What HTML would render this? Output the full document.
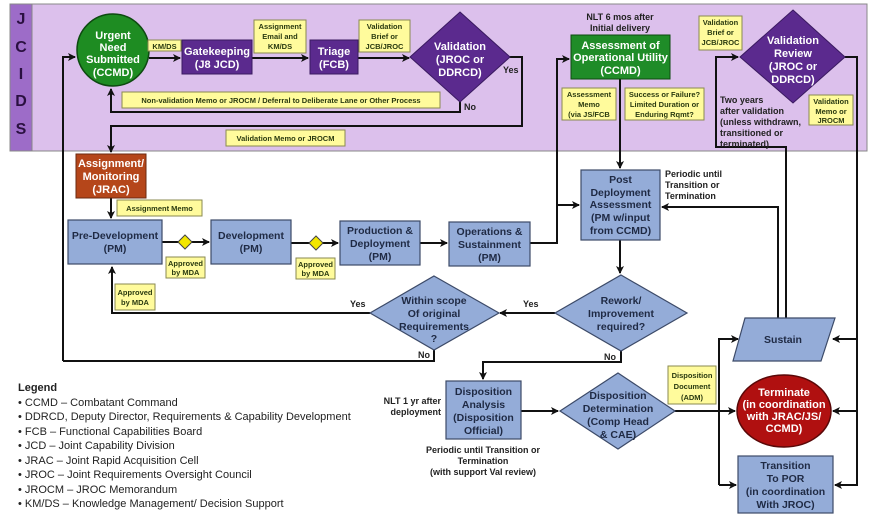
<!DOCTYPE html>
<html><head><meta charset="utf-8"><style>
html,body{margin:0;padding:0;background:#fff}
svg{display:block;font-family:"Liberation Sans",sans-serif;font-weight:bold}
.w{fill:#fff;font-size:11px;text-anchor:middle}
.d{fill:#1f2a44;font-size:10.5px;text-anchor:middle}
.y{fill:#2a3a10;font-size:7.5px;text-anchor:middle}
.lab{fill:#fffb9c;stroke:#8a8a50;stroke-width:1}
.pb{fill:#5b2a8e;stroke:#3a1a60;stroke-width:1}
.bb{fill:#94acd8;stroke:#3c4a68;stroke-width:1.2}
.ln{fill:none;stroke:#111;stroke-width:2}
.t{fill:#222;font-size:9px}
.lg{fill:#222;font-size:11px;font-weight:normal}
</style></head><body>
<svg width="869" height="520" viewBox="0 0 869 520">
<defs><marker id="a" markerWidth="8" markerHeight="8" refX="7" refY="4" orient="auto" markerUnits="userSpaceOnUse"><path d="M0,0 L8,4 L0,8 L2,4z" fill="#111"/></marker></defs>
<!-- panel -->
<rect x="10" y="4" width="857" height="147" fill="#dcc0ec" stroke="#888" stroke-width="1"/>
<rect x="10" y="4" width="22" height="147" fill="#9d6cc8" stroke="#888" stroke-width="1"/>
<g font-size="16" fill="#2a1040" text-anchor="middle"><text x="21" y="24">J</text><text x="21" y="52">C</text><text x="21" y="79">I</text><text x="21" y="106">D</text><text x="21" y="134">S</text></g>

<!-- connectors -->
<path class="ln" d="M149,58 H180" marker-end="url(#a)"/>
<path class="ln" d="M252,58 H308" marker-end="url(#a)"/>
<path class="ln" d="M358,58 H409" marker-end="url(#a)"/>
<path class="ln" d="M460,101 V112 H111 V89" marker-end="url(#a)"/>
<path class="ln" d="M509,57 H522 V126 H111 V152" marker-end="url(#a)"/>
<path class="ln" d="M63,361 V57 H75" marker-end="url(#a)"/>
<path class="ln" d="M111,198 V218" marker-end="url(#a)"/>
<path class="ln" d="M162,242 H209" marker-end="url(#a)"/>
<path class="ln" d="M291,243 H338" marker-end="url(#a)"/>
<path class="ln" d="M420,243 H447" marker-end="url(#a)"/>
<path class="ln" d="M530,243 H557 V59 H569" marker-end="url(#a)"/>
<path class="ln" d="M557,205 H579" marker-end="url(#a)"/>
<path class="ln" d="M620,79 V168" marker-end="url(#a)"/>
<path class="ln" d="M620,240 V273" marker-end="url(#a)"/>
<path class="ln" d="M555,313 H500" marker-end="url(#a)"/>
<path class="ln" d="M370,313 H112 V267" marker-end="url(#a)"/>
<path class="ln" d="M434,350 V361 H63"/>
<path class="ln" d="M621,350 V362 H483 V379" marker-end="url(#a)"/>
<path class="ln" d="M521,411 H558" marker-end="url(#a)"/>
<path class="ln" d="M675,411 H735" marker-end="url(#a)"/>
<path class="ln" d="M719,485 V339 H738" marker-end="url(#a)"/>
<path class="ln" d="M719,485 H736" marker-end="url(#a)"/>
<path class="ln" d="M778,318 V207 H662" marker-end="url(#a)"/>
<path class="ln" d="M786,318 V147 H716 V57 H738" marker-end="url(#a)"/>
<path class="ln" d="M845,57 H857 V485 H835" marker-end="url(#a)"/>
<path class="ln" d="M857,339 H833" marker-end="url(#a)"/>
<path class="ln" d="M857,411 H833" marker-end="url(#a)"/>

<!-- JCIDS nodes -->
<circle cx="113" cy="50" r="36" fill="#1e8c22" stroke="#0d4a10" stroke-width="1.5"/>
<text class="w" x="113" y="39">Urgent</text><text class="w" x="113" y="51">Need</text><text class="w" x="113" y="63">Submitted</text><text class="w" x="113" y="76">(CCMD)</text>
<rect class="lab" x="148" y="40" width="33" height="11"/><text class="y" x="164.5" y="49">KM/DS</text>
<rect class="pb" x="182" y="40" width="70" height="34"/><text class="w" x="217" y="55">Gatekeeping</text><text class="w" x="217" y="68">(J8 JCD)</text>
<rect class="lab" x="254" y="20" width="52" height="33"/><text class="y" x="280" y="29">Assignment</text><text class="y" x="280" y="39">Email and</text><text class="y" x="280" y="49">KM/DS</text>
<rect class="pb" x="310" y="40" width="48" height="34"/><text class="w" x="334" y="55">Triage</text><text class="w" x="334" y="68">(FCB)</text>
<rect class="lab" x="359" y="20" width="51" height="32"/><text class="y" x="384.5" y="29">Validation</text><text class="y" x="384.5" y="39">Brief or</text><text class="y" x="384.5" y="49">JCB/JROC</text>
<path d="M460,12 L510,57 L460,102 L410,57z" fill="#5b2a8e" stroke="#3a1a60"/>
<text class="w" x="460" y="50">Validation</text><text class="w" x="460" y="63">(JROC or</text><text class="w" x="460" y="76">DDRCD)</text>
<text class="t" x="503" y="73">Yes</text><text class="t" x="464" y="110">No</text>
<rect class="lab" x="122" y="92" width="318" height="16"/><text class="y" x="281" y="103" font-size="8">Non-validation Memo or JROCM / Deferral to Deliberate Lane or Other Process</text>
<rect class="lab" x="226" y="130" width="119" height="16"/><text class="y" x="285.5" y="141" font-size="8">Validation Memo or JROCM</text>
<text class="t" x="620" y="20" text-anchor="middle" font-size="8.5">NLT 6 mos after</text><text class="t" x="620" y="31" text-anchor="middle" font-size="8.5">Initial delivery</text>
<rect x="571" y="35" width="99" height="44" fill="#1f8c28" stroke="#0d4a10"/>
<text class="w" x="620.5" y="49">Assessment of</text><text class="w" x="620.5" y="61">Operational Utility</text><text class="w" x="620.5" y="74">(CCMD)</text>
<rect class="lab" x="562" y="88" width="54" height="32"/><text class="y" x="589" y="97">Assessment</text><text class="y" x="589" y="107">Memo</text><text class="y" x="589" y="117">(via JS/FCB</text>
<rect class="lab" x="625" y="88" width="79" height="32"/><text class="y" x="664.5" y="97">Success or Failure?</text><text class="y" x="664.5" y="107">Limited Duration or</text><text class="y" x="664.5" y="117">Enduring Rqmt?</text>
<rect class="lab" x="699" y="16" width="43" height="34"/><text class="y" x="720.5" y="25">Validation</text><text class="y" x="720.5" y="35">Brief or</text><text class="y" x="720.5" y="45">JCB/JROC</text>
<path d="M793,10 L845,57 L793,103 L740,57z" fill="#5b2a8e" stroke="#3a1a60"/>
<text class="w" x="793" y="44">Validation</text><text class="w" x="793" y="57">Review</text><text class="w" x="793" y="70">(JROC or</text><text class="w" x="793" y="83">DDRCD)</text>
<rect class="lab" x="809" y="95" width="44" height="30"/><text class="y" x="831" y="104">Validation</text><text class="y" x="831" y="114">Memo or</text><text class="y" x="831" y="123">JROCM</text>
<g class="t" font-size="8.5"><text x="720" y="103">Two years</text><text x="720" y="114">after validation</text><text x="720" y="125">(unless withdrawn,</text><text x="720" y="136">transitioned or</text><text x="720" y="147">terminated)</text></g>

<!-- lower -->
<rect x="76" y="154" width="70" height="44" fill="#b5461a" stroke="#6a2a10"/>
<text class="w" x="111" y="167" fill="#f4e0d0">Assignment/</text><text class="w" x="111" y="180">Monitoring</text><text class="w" x="111" y="193">(JRAC)</text>
<rect class="lab" x="117" y="200" width="85" height="16"/><text class="y" x="159.5" y="211">Assignment Memo</text>
<rect class="bb" x="68" y="220" width="94" height="44"/><text class="d" x="115" y="239">Pre-Development</text><text class="d" x="115" y="252">(PM)</text>
<path d="M185,235 L192,242 L185,249 L178,242z" fill="#f2e600" stroke="#444"/>
<rect class="lab" x="166" y="257" width="39" height="21"/><text class="y" x="185.5" y="266">Approved</text><text class="y" x="185.5" y="275">by MDA</text>
<rect class="bb" x="211" y="220" width="80" height="44"/><text class="d" x="251" y="239">Development</text><text class="d" x="251" y="252">(PM)</text>
<path d="M316,236 L323,243 L316,250 L309,243z" fill="#f2e600" stroke="#444"/>
<rect class="lab" x="296" y="258" width="39" height="21"/><text class="y" x="315.5" y="267">Approved</text><text class="y" x="315.5" y="276">by MDA</text>
<rect class="bb" x="340" y="221" width="80" height="44"/><text class="d" x="380" y="234">Production &amp;</text><text class="d" x="380" y="247">Deployment</text><text class="d" x="380" y="260">(PM)</text>
<rect class="bb" x="449" y="222" width="81" height="44"/><text class="d" x="489.5" y="235">Operations &amp;</text><text class="d" x="489.5" y="248">Sustainment</text><text class="d" x="489.5" y="261">(PM)</text>
<rect class="bb" x="581" y="170" width="79" height="70"/><text class="d" x="620.5" y="183">Post</text><text class="d" x="620.5" y="196">Deployment</text><text class="d" x="620.5" y="208">Assessment</text><text class="d" x="620.5" y="221">(PM w/input</text><text class="d" x="620.5" y="234">from CCMD)</text>
<g class="t" font-size="8.5"><text x="665" y="177">Periodic until</text><text x="665" y="188">Transition or</text><text x="665" y="199">Termination</text></g>
<path d="M621,275 L687,313 L621,351 L555,313z" class="bb"/>
<text class="d" x="621" y="304">Rework/</text><text class="d" x="621" y="317">Improvement</text><text class="d" x="621" y="330">required?</text>
<text class="t" x="523" y="307">Yes</text><text class="t" x="604" y="360">No</text>
<path d="M434,276 L499,313 L434,350 L370,313z" class="bb"/>
<text class="d" x="434" y="304">Within scope</text><text class="d" x="434" y="317">Of original</text><text class="d" x="434" y="330">Requirements</text><text class="d" x="434" y="342">?</text>
<text class="t" x="350" y="307">Yes</text><text class="t" x="418" y="358">No</text>
<rect class="lab" x="115" y="284" width="40" height="26"/><text class="y" x="135" y="295">Approved</text><text class="y" x="135" y="305">by MDA</text>
<path d="M745,318 L835,318 L821,361 L733,361z" class="bb"/><text class="d" x="783" y="343">Sustain</text>
<rect class="bb" x="446" y="381" width="75" height="58"/><text class="d" x="483.5" y="395">Disposition</text><text class="d" x="483.5" y="408">Analysis</text><text class="d" x="483.5" y="421">(Disposition</text><text class="d" x="483.5" y="434">Official)</text>
<g class="t" font-size="8.5" text-anchor="end"><text x="441" y="404">NLT 1 yr after</text><text x="441" y="415">deployment</text></g>
<g class="t" font-size="8.5" text-anchor="middle"><text x="483" y="453">Periodic until Transition or</text><text x="483" y="464">Termination</text><text x="483" y="475">(with support Val review)</text></g>
<path d="M618,373 L675,411 L618,449 L560,411z" class="bb"/>
<text class="d" x="618" y="399">Disposition</text><text class="d" x="618" y="412">Determination</text><text class="d" x="618" y="425">(Comp Head</text><text class="d" x="618" y="438">&amp; CAE)</text>
<rect class="lab" x="668" y="366" width="48" height="38"/><text class="y" x="692" y="378">Disposition</text><text class="y" x="692" y="389">Document</text><text class="y" x="692" y="400">(ADM)</text>
<ellipse cx="784" cy="411" rx="47" ry="36" fill="#b01010" stroke="#5a0808" stroke-width="1.5"/>
<text class="w" x="784" y="396" font-size="10.5">Terminate</text><text class="w" x="784" y="408" font-size="10.5">(in coordination</text><text class="w" x="784" y="420" font-size="10.5">with JRAC/JS/</text><text class="w" x="784" y="432" font-size="10.5">CCMD)</text>
<rect class="bb" x="738" y="456" width="95" height="57"/><text class="d" x="785.5" y="469">Transition</text><text class="d" x="785.5" y="482">To POR</text><text class="d" x="785.5" y="495">(in coordination</text><text class="d" x="785.5" y="508">With JROC)</text>

<!-- legend -->
<text x="18" y="391" font-size="11" fill="#222">Legend</text>
<g class="lg"><text x="18" y="406">• CCMD – Combatant Command</text><text x="18" y="420">• DDRCD, Deputy Director, Requirements &amp; Capability Development</text><text x="18" y="435">• FCB – Functional Capabilities Board</text><text x="18" y="449">• JCD – Joint Capability Division</text><text x="18" y="464">• JRAC – Joint Rapid Acquisition Cell</text><text x="18" y="478">• JROC – Joint Requirements Oversight Council</text><text x="18" y="493">• JROCM – JROC Memorandum</text><text x="18" y="507">• KM/DS – Knowledge Management/ Decision Support</text></g>
</svg>
</body></html>
